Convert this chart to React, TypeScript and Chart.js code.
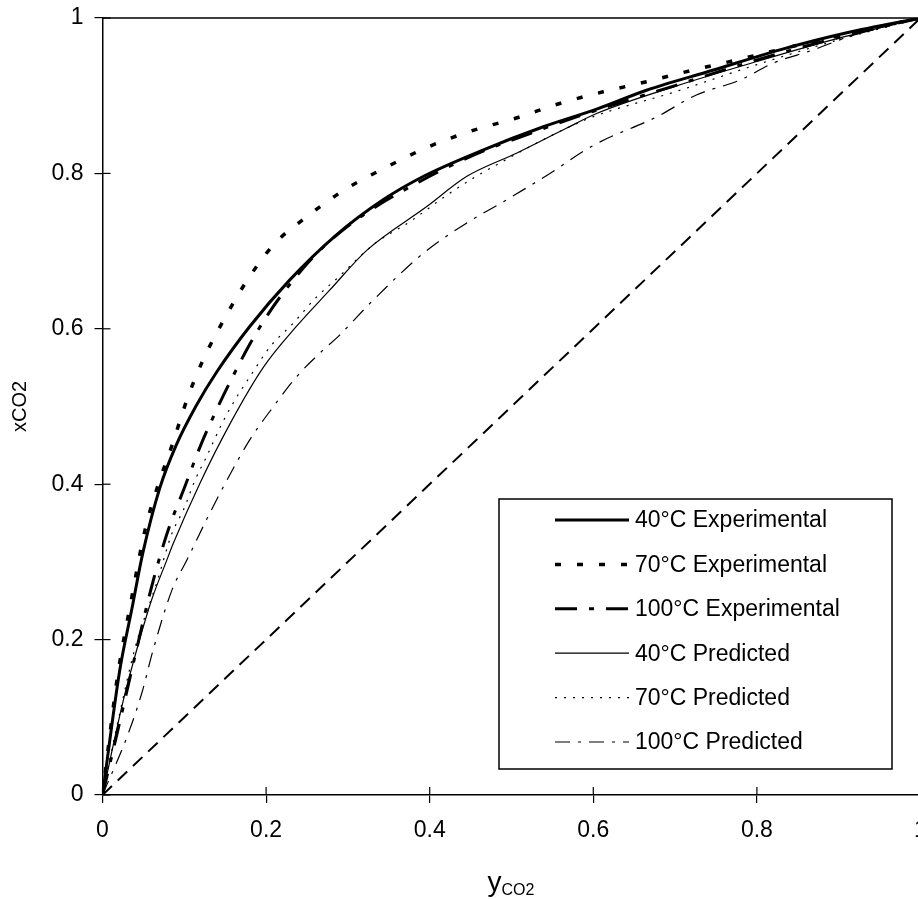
import React, { useEffect, useRef } from 'react';
import { Chart, registerables } from 'chart.js';

Chart.register(...registerables);

// ---------- data ----------
const seriesLabels = [
  '40°C Experimental',
  '70°C Experimental',
  '100°C Experimental',
  '40°C Predicted',
  '70°C Predicted',
  '100°C Predicted',
];

const xTickValues = [0, 0.2, 0.4, 0.6, 0.8, 1];
const yTickValues = [0, 0.2, 0.4, 0.6, 0.8, 1];

// [yCO2, xCO2]
const exp40: [number, number][] = [
  [0, 0], [0.021, 0.16], [0.036, 0.24], [0.049, 0.31], [0.07, 0.395], [0.09, 0.45],
  [0.114, 0.5], [0.14, 0.545], [0.18, 0.603], [0.229, 0.663], [0.285, 0.72], [0.343, 0.766],
  [0.392, 0.796], [0.465, 0.83], [0.539, 0.86], [0.605, 0.883], [0.665, 0.907],
  [0.747, 0.933], [0.828, 0.959], [0.91, 0.981], [1, 1],
];

const exp70: [number, number][] = [
  [0, 0], [0.018, 0.15], [0.035, 0.25], [0.052, 0.341], [0.068, 0.399], [0.085, 0.45],
  [0.103, 0.508], [0.123, 0.56], [0.148, 0.611], [0.176, 0.661], [0.209, 0.708],
  [0.252, 0.746], [0.296, 0.779], [0.345, 0.807], [0.398, 0.834], [0.452, 0.855],
  [0.505, 0.871], [0.559, 0.89], [0.612, 0.905], [0.665, 0.918], [0.718, 0.932],
  [0.771, 0.945], [0.85, 0.965], [0.92, 0.982], [1, 1],
];

const exp100: [number, number][] = [
  [0, 0], [0.018, 0.08], [0.04, 0.18], [0.06, 0.268], [0.08, 0.34], [0.1, 0.395],
  [0.12, 0.45], [0.14, 0.497], [0.16, 0.54], [0.18, 0.58], [0.2, 0.615],
  [0.22, 0.645], [0.26, 0.695], [0.31, 0.74], [0.38, 0.785], [0.455, 0.824],
  [0.54, 0.858], [0.6, 0.88], [0.7, 0.913], [0.8, 0.946], [0.9, 0.975], [1, 1],
];

const pred40: [number, number][] = [
  [0, 0], [0.0255, 0.122], [0.044, 0.195], [0.06, 0.251], [0.0785, 0.302],
  [0.0866, 0.324], [0.119, 0.401], [0.156, 0.478], [0.197, 0.551], [0.237, 0.603],
  [0.278, 0.65], [0.323, 0.701], [0.396, 0.757], [0.445, 0.796], [0.506, 0.826],
  [0.567, 0.858], [0.604, 0.877], [0.7, 0.912], [0.8, 0.944], [0.9, 0.974], [1, 1],
];

const pred70: [number, number][] = [
  [0, 0], [0.02, 0.1], [0.04, 0.19], [0.066, 0.272], [0.085, 0.337], [0.099, 0.367],
  [0.113, 0.405], [0.127, 0.435], [0.146, 0.478], [0.164, 0.512], [0.18, 0.538],
  [0.205, 0.577], [0.233, 0.607], [0.26, 0.639], [0.29, 0.668], [0.332, 0.709],
  [0.376, 0.738], [0.421, 0.772], [0.455, 0.795], [0.492, 0.817], [0.527, 0.837],
  [0.563, 0.856], [0.6, 0.873], [0.7, 0.905], [0.8, 0.94], [0.9, 0.972], [1, 1],
];

const pred100: [number, number][] = [
  [0, 0], [0.03, 0.075], [0.048, 0.131], [0.062, 0.187], [0.085, 0.264], [0.103, 0.302],
  [0.127, 0.354], [0.152, 0.405], [0.18, 0.457], [0.209, 0.5], [0.237, 0.538],
  [0.27, 0.573], [0.288, 0.59], [0.331, 0.637], [0.392, 0.697], [0.445, 0.736],
  [0.494, 0.766], [0.547, 0.8], [0.6, 0.836], [0.678, 0.873], [0.726, 0.901],
  [0.779, 0.92], [0.82, 0.942], [0.869, 0.959], [0.918, 0.978], [1, 1],
];

const diagonal: [number, number][] = [[0, 0], [1, 1]];

// ---------- styling ----------
const FONT = "'Liberation Sans', Arial, sans-serif";
const CANVAS_W = 930;
const CANVAS_H = 899;

const toPts = (arr: [number, number][]) => arr.map(([x, y]) => ({ x, y }));
const fmt = (v: number) => String(Math.round(v * 10) / 10);

const decorPlugin = {
  id: 'decor',
  afterDraw(chart: any) {
    const { ctx, chartArea: ca, scales } = chart;
    const xs = scales.x;
    const ys = scales.y;
    ctx.save();
    ctx.strokeStyle = '#000';
    ctx.fillStyle = '#000';

    // top & right border
    ctx.lineWidth = 1.5;
    ctx.setLineDash([]);
    ctx.beginPath();
    ctx.moveTo(ca.left, ca.top);
    ctx.lineTo(ca.right, ca.top);
    ctx.lineTo(ca.right, ca.bottom);
    ctx.stroke();

    // inner tick marks
    ctx.lineWidth = 1.2;
    xTickValues.forEach((v) => {
      const px = xs.getPixelForValue(v);
      ctx.beginPath();
      ctx.moveTo(px, ca.bottom);
      ctx.lineTo(px, ca.bottom - 8);
      ctx.stroke();
    });
    yTickValues.forEach((v) => {
      const py = ys.getPixelForValue(v);
      ctx.beginPath();
      ctx.moveTo(ca.left, py);
      ctx.lineTo(ca.left + 8, py);
      ctx.stroke();
    });

    // x axis title: y with subscript CO2
    ctx.textBaseline = 'alphabetic';
    ctx.textAlign = 'left';
    ctx.font = `28px ${FONT}`;
    const yW = ctx.measureText('y').width;
    ctx.font = `16px ${FONT}`;
    const subW = ctx.measureText('CO2').width;
    const totalW = yW + subW;
    const cx = 511;
    const tx = cx - totalW / 2;
    ctx.font = `28px ${FONT}`;
    ctx.fillText('y', tx, 891);
    ctx.font = `16px ${FONT}`;
    ctx.fillText('CO2', tx + yW, 895);

    // y axis title
    ctx.save();
    ctx.translate(20, (ca.top + ca.bottom) / 2);
    ctx.rotate(-Math.PI / 2);
    ctx.textAlign = 'center';
    ctx.textBaseline = 'middle';
    ctx.font = `20px ${FONT}`;
    ctx.fillText('xCO2', 0, 0);
    ctx.restore();

    // legend box
    const bx = 499, by = 499, bw = 393, bh = 270;
    ctx.fillStyle = '#fff';
    ctx.fillRect(bx, by, bw, bh);
    ctx.lineWidth = 1.5;
    ctx.setLineDash([]);
    ctx.strokeStyle = '#000';
    ctx.strokeRect(bx, by, bw, bh);
    ctx.fillStyle = '#000';
    ctx.font = `23px ${FONT}`;
    ctx.textAlign = 'left';
    ctx.textBaseline = 'middle';
    const rowY0 = 520;
    const rowGap = 44.4;
    seriesLabels.forEach((label, i) => {
      const ds = chart.data.datasets[i];
      const ry = rowY0 + i * rowGap;
      ctx.save();
      ctx.lineWidth = ds.borderWidth;
      ctx.setLineDash(ds.borderDash || []);
      ctx.beginPath();
      ctx.moveTo(555, ry);
      ctx.lineTo(629, ry);
      ctx.stroke();
      ctx.restore();
      ctx.fillText(label, 635, ry + 1);
    });

    ctx.restore();
  },
};

export default function App() {
  const canvasRef = useRef<HTMLCanvasElement | null>(null);

  useEffect(() => {
    const canvas = canvasRef.current;
    if (!canvas) return;
    const common = {
      borderColor: '#000',
      pointRadius: 0,
      pointHoverRadius: 0,
      showLine: true,
      fill: false,
      cubicInterpolationMode: 'monotone' as const,
      borderCapStyle: 'butt' as const,
    };
    const chart = new Chart(canvas, {
      type: 'scatter',
      data: {
        datasets: [
          { ...common, label: seriesLabels[0], data: toPts(exp40), borderWidth: 3, borderDash: [] },
          { ...common, label: seriesLabels[1], data: toPts(exp70), borderWidth: 3.5, borderDash: [6, 16] },
          { ...common, label: seriesLabels[2], data: toPts(exp100), borderWidth: 3, borderDash: [22, 12, 5, 12] },
          { ...common, label: seriesLabels[3], data: toPts(pred40), borderWidth: 1.2, borderDash: [] },
          { ...common, label: seriesLabels[4], data: toPts(pred70), borderWidth: 1.2, borderDash: [2, 7] },
          { ...common, label: seriesLabels[5], data: toPts(pred100), borderWidth: 1.2, borderDash: [15, 8, 3, 8] },
          { ...common, label: 'diagonal', data: toPts(diagonal), borderWidth: 2, borderDash: [13, 8] },
        ],
      },
      options: {
        responsive: false,
        animation: false,
        devicePixelRatio: 1,
        layout: { padding: { left: 0, top: 18, right: CANVAS_W - 920.5, bottom: 0 } },
        plugins: {
          legend: { display: false },
          tooltip: { enabled: false },
          title: { display: false },
        },
        events: [],
        scales: {
          x: {
            type: 'linear',
            min: 0,
            max: 1,
            afterFit: (scale: any) => {
              scale.height = CANVAS_H - 795;
              scale.paddingLeft = 0;
              scale.paddingRight = 0;
            },
            afterBuildTicks: (scale: any) => { scale.ticks = xTickValues.map((v) => ({ value: v })); },
            ticks: {
              color: '#000',
              font: { family: FONT, size: 23 },
              padding: 14,
              maxRotation: 0,
              autoSkip: false,
              callback: (v: any) => fmt(Number(v)),
            },
            grid: {
              display: true,
              drawOnChartArea: false,
              drawTicks: true,
              tickLength: 8,
              color: '#000',
              lineWidth: 1.2,
            },
            border: { display: true, color: '#000', width: 1.5 },
          },
          y: {
            type: 'linear',
            min: 0,
            max: 1,
            afterFit: (scale: any) => {
              scale.width = 102.5;
              scale.paddingTop = 0;
              scale.paddingBottom = 0;
            },
            afterBuildTicks: (scale: any) => { scale.ticks = yTickValues.map((v) => ({ value: v })); },
            ticks: {
              color: '#000',
              font: { family: FONT, size: 23 },
              padding: 11,
              autoSkip: false,
              callback: (v: any) => fmt(Number(v)),
            },
            grid: {
              display: true,
              drawOnChartArea: false,
              drawTicks: true,
              tickLength: 8,
              color: '#000',
              lineWidth: 1.2,
            },
            border: { display: true, color: '#000', width: 1.5 },
          },
        },
      },
      plugins: [decorPlugin],
    });
    return () => chart.destroy();
  }, []);

  return (
    <div style={{ position: 'fixed', left: 0, top: 0, width: CANVAS_W, height: CANVAS_H, background: '#fff' }}>
      <canvas ref={canvasRef} width={CANVAS_W} height={CANVAS_H} style={{ width: CANVAS_W, height: CANVAS_H, display: 'block' }} />
    </div>
  );
}
